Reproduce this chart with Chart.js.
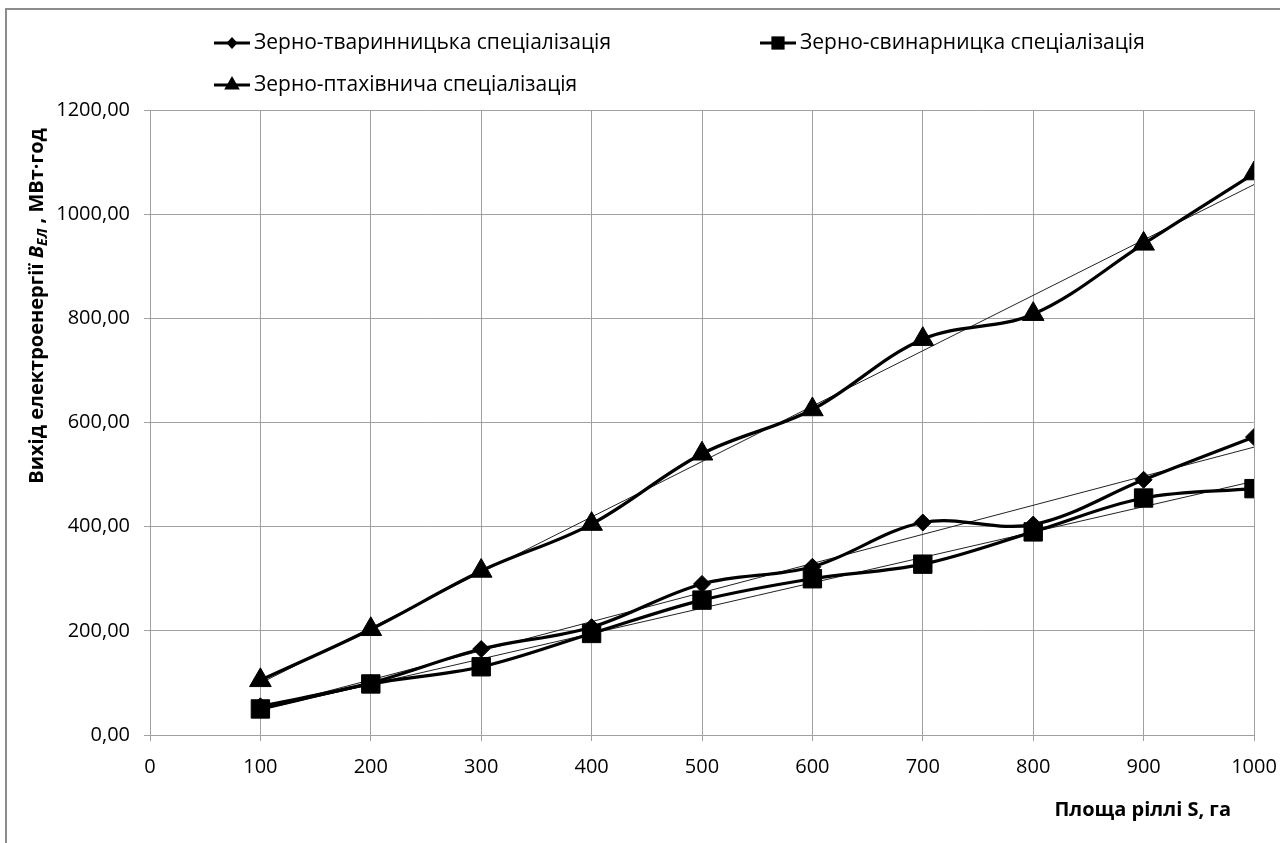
<!DOCTYPE html>
<html>
<head>
<meta charset="utf-8">
<script src="https://cdn.jsdelivr.net/npm/chart.js@4.4.1/dist/chart.umd.min.js"></script>
<style>
  body { margin: 0; background: #fff; }
  #wrap { position: relative; width: 1280px; height: 843px; overflow: hidden; }
  #frame { position: absolute; left: 5px; top: 8px; width: 1400px; height: 1000px;
           border-left: 2px solid #8c8c8c; border-top: 2px solid #8c8c8c; }
  canvas { position: absolute; left: 0; top: 0; }
</style>
</head>
<body>
<div id="wrap">
  <div id="frame"></div>
  <canvas id="chart" width="1280" height="843"></canvas>
</div>
<script>
// Chart data
const area = [100, 200, 300, 400, 500, 600, 700, 800, 900, 1000];
const tvarynnytska = [55, 100, 165, 207, 290, 323, 408, 404, 490, 572];
const svynarnytska = [50, 98, 131, 195, 259, 300, 328, 390, 455, 473];
const ptakhivnycha = [105, 203, 315, 405, 540, 625, 760, 808, 943, 1078];
const seriesNames = [
    'Зерно-тваринницька спеціалізація',
    'Зерно-свинарницка спеціалізація',
    'Зерно-птахівнича спеціалізація'
];
const xTicks = { min: 0, max: 1000, step: 100 };
const yTicks = { min: 0, max: 1200, step: 200 };

const FONT = '"Open Sans", "Noto Sans", sans-serif';

// Linear trend (least squares) like Excel's trendline
function trend(xs, ys) {
    const n = xs.length;
    const mx = xs.reduce((a, b) => a + b, 0) / n;
    const my = ys.reduce((a, b) => a + b, 0) / n;
    let sxy = 0, sxx = 0;
    xs.forEach((x, i) => { sxy += (x - mx) * (ys[i] - my); sxx += (x - mx) * (x - mx); });
    const k = sxy / sxx, b = my - k * mx;
    const x0 = xs[0], x1 = xs[n - 1];
    return [{ x: x0, y: k * x0 + b }, { x: x1, y: k * x1 + b }];
}

function points(ys) {
    return area.map((x, i) => ({ x: x, y: ys[i] }));
}

function mainSet(label, ys, style, radius) {
    return {
        label: label,
        data: points(ys),
        borderColor: '#000',
        backgroundColor: '#000',
        borderWidth: 3.2,
        tension: 0.35,
        pointStyle: style,
        pointRadius: radius,
        pointBackgroundColor: '#000',
        pointBorderColor: '#000',
        pointBorderWidth: 1,
        order: 1
    };
}

function trendSet(ys) {
    return {
        label: 'trend',
        data: trend(area, ys),
        borderColor: '#222',
        borderWidth: 1,
        pointRadius: 0,
        tension: 0,
        order: 2
    };
}

const markers = [
    { style: 'rectRot', radius: 8.5 },
    { style: 'rect', radius: 13 },
    { style: 'triangle', radius: 12.5 }
];

// draw a legend marker shape
function drawMarker(ctx, style, r, x, y) {
    ctx.beginPath();
    if (style === 'rectRot') {
        ctx.moveTo(x, y - r); ctx.lineTo(x + r * 0.9, y); ctx.lineTo(x, y + r); ctx.lineTo(x - r * 0.9, y);
    } else if (style === 'rect') {
        const s = r * Math.SQRT1_2;
        ctx.rect(x - s, y - s, 2 * s, 2 * s);
    } else {
        const h = r * 1.5, w = r * Math.sqrt(3) / 2;
        ctx.moveTo(x, y - r); ctx.lineTo(x + w, y + h - r); ctx.lineTo(x - w, y + h - r);
    }
    ctx.closePath();
    ctx.fill();
}

const legendAndTitles = {
    id: 'legendAndTitles',
    afterDraw(chart) {
        const ctx = chart.ctx;
        ctx.save();
        // legend, two columns
        const slots = [[214, 43], [760, 43], [214, 85]];
        ctx.font = '21px ' + FONT;
        ctx.textBaseline = 'middle';
        ctx.fillStyle = '#000';
        ctx.strokeStyle = '#000';
        seriesNames.forEach((name, i) => {
            const [lx, ly] = slots[i];
            ctx.lineWidth = 3.2;
            ctx.beginPath();
            ctx.moveTo(lx, ly); ctx.lineTo(lx + 36, ly);
            ctx.stroke();
            const m = markers[i];
            drawMarker(ctx, m.style, m.radius * 0.72, lx + 18, ly);
            ctx.fillText(name, lx + 40, ly);
        });

        // y axis title with subscript
        const cx = 37, cy = 306;
        ctx.translate(cx, cy);
        ctx.rotate(-Math.PI / 2);
        const parts = [
            { t: 'Вихід електроенергії ', f: 'bold 20px ' + FONT, dy: 0 },
            { t: 'B', f: 'italic bold 20px ' + FONT, dy: 0 },
            { t: 'ЕЛ', f: 'italic bold 14px ' + FONT, dy: 6 },
            { t: ' , МВт·год', f: 'bold 20px ' + FONT, dy: 0 }
        ];
        let total = 0;
        parts.forEach(p => { ctx.font = p.f; p.w = ctx.measureText(p.t).width; total += p.w; });
        let px = -total / 2;
        ctx.textAlign = 'left';
        parts.forEach(p => {
            ctx.font = p.f;
            ctx.fillText(p.t, px, p.dy);
            px += p.w;
        });
        ctx.restore();

        // x axis title
        ctx.save();
        ctx.font = 'bold 20px ' + FONT;
        ctx.fillStyle = '#000';
        ctx.textAlign = 'right';
        ctx.textBaseline = 'middle';
        ctx.fillText('Площа ріллі S, га', chart.chartArea.right - 23, 810);
        ctx.restore();
    }
};

const gridColor = '#a0a0a0';

new Chart(document.getElementById('chart'), {
    type: 'line',
    data: {
        datasets: [
            mainSet(seriesNames[0], tvarynnytska, markers[0].style, markers[0].radius),
            mainSet(seriesNames[1], svynarnytska, markers[1].style, markers[1].radius),
            mainSet(seriesNames[2], ptakhivnycha, markers[2].style, markers[2].radius),
            trendSet(tvarynnytska),
            trendSet(svynarnytska),
            trendSet(ptakhivnycha)
        ]
    },
    options: {
        responsive: false,
        animation: false,
        layout: { padding: { top: 110, right: 26, left: 0, bottom: 0 } },
        plugins: {
            legend: { display: false },
            tooltip: { enabled: false }
        },
        scales: {
            x: {
                type: 'linear',
                min: xTicks.min,
                max: xTicks.max,
                ticks: {
                    stepSize: xTicks.step,
                    color: '#000',
                    font: { family: FONT, size: 20 },
                    padding: 14,
                    callback: v => String(v)
                },
                grid: { color: gridColor, tickLength: 6, lineWidth: 1 },
                border: { color: gridColor },
                afterFit(scale) { scale.height = 108; scale.paddingRight = 0; scale.paddingLeft = 0; }
            },
            y: {
                min: yTicks.min,
                max: yTicks.max,
                ticks: {
                    stepSize: yTicks.step,
                    color: '#000',
                    font: { family: FONT, size: 20 },
                    padding: 14,
                    callback: v => v.toFixed(2).replace('.', ',')
                },
                grid: { color: gridColor, tickLength: 6, lineWidth: 1 },
                border: { color: gridColor },
                afterFit(scale) { scale.width = 150; scale.paddingTop = 0; scale.paddingBottom = 0; }
            }
        }
    },
    plugins: [legendAndTitles]
});
</script>
</body>
</html>
